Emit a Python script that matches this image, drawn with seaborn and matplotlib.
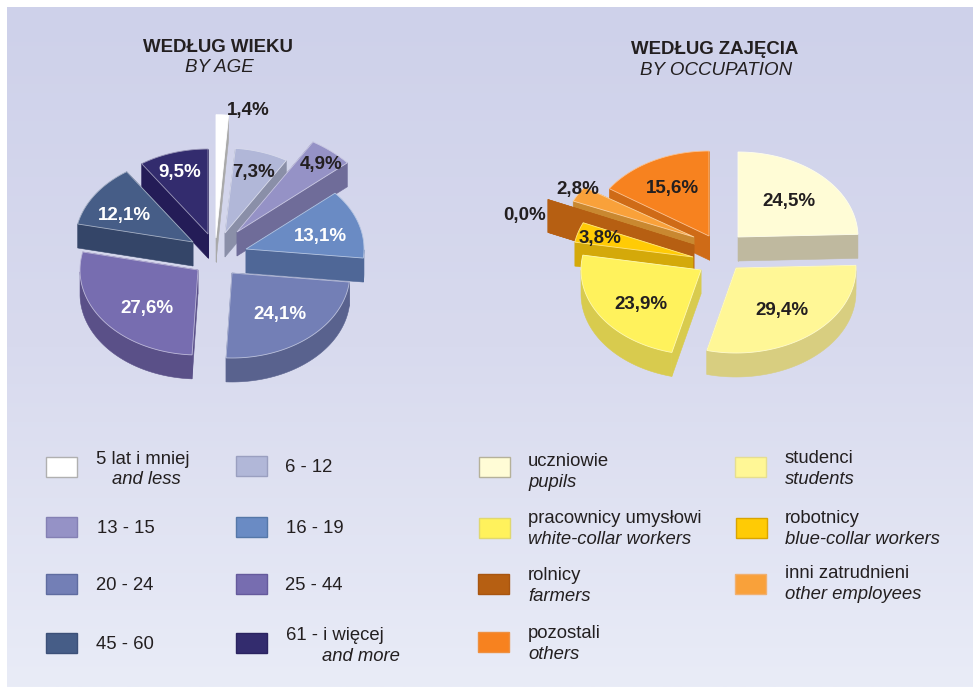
import numpy as np
import seaborn as sns
import matplotlib.pyplot as plt
from matplotlib.patches import Polygon, Rectangle

sns.set_theme(style='white')
plt.rcParams['font.family'] = ['Liberation Sans', 'DejaVu Sans']

DARK = '#231f20'

# data
age_values = [1.4, 7.3, 4.9, 13.1, 24.1, 27.6, 12.1, 9.5]
age_pl = ['5 lat i mniej', '6 - 12', '13 - 15', '16 - 19', '20 - 24', '25 - 44', '45 - 60', '61 - i więcej']
age_en = ['and less', '', '', '', '', '', '', 'and more']

job_values = [24.5, 29.4, 23.9, 3.8, 0.0, 2.8, 15.6]
job_pl = ['uczniowie', 'studenci', 'pracownicy umysłowi', 'robotnicy', 'rolnicy', 'inni zatrudnieni', 'pozostali']
job_en = ['pupils', 'students', 'white-collar workers', 'blue-collar workers', 'farmers', 'other employees', 'others']

# colours
age_top = sns.color_palette(['#ffffff', '#b1b7d8', '#9592c6', '#6a8bc4', '#737fb6', '#776db0', '#465d87', '#332c6e'])
age_side = ['#a9a9a9', '#8a8fa8', '#6f6c99', '#4f6797', '#59628e', '#5a5088', '#344568', '#241c57']
age_edge = ['#b0b0b0', '#9a9fc0', '#8480b4', '#5577a8', '#5f6ca0', '#655a9c', '#3c5078', '#2a2360']
age_text = [DARK, DARK, DARK, 'white', 'white', 'white', 'white', 'white']

job_top = sns.color_palette(['#fffcd6', '#fff796', '#fff25c', '#ffcb05', '#b65f12', '#f9a13a', '#f7821f'])
job_side = ['#bfb99f', '#d8ce80', '#d8cb4e', '#d4a90a', '#b65f12', '#c98830', '#cf6b17']
job_edge = ['#b5b19a', '#e6de90', '#e0d870', '#d9a400', '#a85510', '#f0b070', '#ee9040']

# layout: pie centres, slice offsets (px), radius scale (x, y), wall depth, draw order
age_center = (215, 250)
age_radius = (118, 85)
age_offset = [(1, -12), (10, -17), (22, -18), (31, -1), (17, 23), (-17, 20), (-22, -8), (-7, -16)]
age_scale = [(1.22, 1.45), (1, 1), (1.24, 1.24), (1, 1), (1, 1), (1, 1), (1, 1), (1, 1)]
age_depth = [24] * 8
age_order = [7, 0, 1, 2, 3, 6, 5, 4]
age_label_pos = [(248, 109), (254, 171), (321, 163), (320, 235), (280, 313), (147, 307), (124, 214), (180, 171)]

job_center = (715, 250)
job_radius = (120, 85)
job_offset = [(23, -13), (21, 18), (-14, 20), (-22, 7), (-21, -5), (-21, -13), (-6, -14)]
job_scale = [(1, 1), (1, 1), (1, 1), (1, 1), (1.33, 1.33), (1.1, 1.05), (1, 1)]
job_depth = [24, 24, 24, 24, 33, 8, 24]
job_order = [0, 6, 5, 4, 3, 2, 1]
job_label_pos = [(789, 200), (782, 309), (641, 303), (600, 237), (525, 214), (578, 188), (672, 187)]

TXT = 1.5  # va=center sits a bit high with this font


def draw_pie(ax, values, center, radius, offset, scale, depth, order, top, side):
    edges = np.cumsum([0] + values) / sum(values) * 2 * np.pi
    for i in order:
        tx, ty = center[0] + offset[i][0], center[1] + offset[i][1]
        th = np.linspace(edges[i], edges[i + 1], 60)
        ax_x = tx + radius[0] * scale[i][0] * np.sin(th)
        ax_y = ty - radius[1] * scale[i][1] * np.cos(th)
        d = depth[i]
        walls = []
        # cut faces
        for k in (0, -1):
            walls.append([(tx, ty), (ax_x[k], ax_y[k]), (ax_x[k], ax_y[k] + d), (tx, ty + d)])
        # outer wall, only the part that faces the viewer
        vis = np.cos(th) <= 0
        if vis.sum() > 1:
            xs, ys = ax_x[vis], ax_y[vis]
            walls.append(list(zip(xs, ys)) + list(zip(xs[::-1], ys[::-1] + d)))
        for w in sorted(walls, key=lambda p: np.mean([q[1] for q in p])):
            ax.add_patch(Polygon(w, closed=True, fc=side[i], ec=side[i], lw=0.4))
        if values[i] > 0:
            pts = [(tx, ty)] + list(zip(ax_x, ax_y))
            light = sns.blend_palette([top[i], 'white'], 3)[1]
            ax.add_patch(Polygon(pts, closed=True, fc=top[i], ec=light, lw=0.6))


def pct(v):
    return f'{v:.1f}'.replace('.', ',') + '%'


fig = plt.figure(figsize=(9.75, 6.88), dpi=100)
ax = fig.add_axes([0, 0, 1, 1])

# background
grad = np.linspace(0, 1, 256).reshape(-1, 1)
cmap = sns.blend_palette(['#ced1ea', '#d8daee', '#e9ecf7'], as_cmap=True)
ax.imshow(grad, cmap=cmap, extent=(7, 973, 687, 7), aspect='auto', zorder=0)
ax.set_xlim(0, 975)
ax.set_ylim(688, 0)
ax.axis('off')

# titles
ax.text(218, 46 + TXT, 'WEDŁUG WIEKU', ha='center', va='center', fontsize=13.4, fontweight='bold', color=DARK)
ax.text(219, 66 + TXT, 'BY AGE', ha='center', va='center', fontsize=13.5, fontstyle='italic', color=DARK)
ax.text(715, 48 + TXT, 'WEDŁUG ZAJĘCIA', ha='center', va='center', fontsize=13.4, fontweight='bold', color=DARK)
ax.text(716, 69 + TXT, 'BY OCCUPATION', ha='center', va='center', fontsize=13.5, fontstyle='italic', color=DARK)

# pies
draw_pie(ax, age_values, age_center, age_radius, age_offset, age_scale, age_depth, age_order, age_top, age_side)
draw_pie(ax, job_values, job_center, job_radius, job_offset, job_scale, job_depth, job_order, job_top, job_side)

for v, (x, y), c in zip(age_values, age_label_pos, age_text):
    ax.text(x, y + TXT, pct(v), ha='center', va='center', fontsize=13.5, fontweight='bold', color=c)
for v, (x, y) in zip(job_values, job_label_pos):
    ax.text(x, y + TXT, pct(v), ha='center', va='center', fontsize=13.5, fontweight='bold', color=DARK)

# legends
age_box = [(46, 467), (236, 466), (46, 527), (236, 527), (46, 584), (236, 584), (46, 643), (236, 643)]
age_pl_pos = [(96, 458), (285, 466), (97, 527), (286, 527), (96, 584), (285, 584), (96, 643), (286, 634)]
age_en_pos = [(112, 478), None, None, None, None, None, None, (322, 655)]
for i in range(8):
    x, y = age_box[i]
    ax.add_patch(Rectangle((x, y - 10), 31, 20, fc=age_top[i], ec=age_edge[i], lw=1))
    ax.text(age_pl_pos[i][0], age_pl_pos[i][1] + TXT, age_pl[i], va='center', fontsize=13.3, color=DARK)
    if age_en[i]:
        ax.text(age_en_pos[i][0], age_en_pos[i][1] + TXT, age_en[i], va='center', fontsize=13.3,
                fontstyle='italic', color=DARK)

job_box = [(479, 467), (735, 467), (479, 528), (736, 528), (478, 584), (735, 584), (478, 642)]
job_pl_pos = [(528, 460), (785, 457), (528, 517), (785, 517), (528, 574), (785, 572), (528, 632)]
job_en_pos = [(528, 481), (785, 478), (528, 538), (785, 538), (528, 595), (785, 593), (528, 653)]
for i in range(7):
    x, y = job_box[i]
    ax.add_patch(Rectangle((x, y - 10), 31, 20, fc=job_top[i], ec=job_edge[i], lw=1))
    ax.text(job_pl_pos[i][0], job_pl_pos[i][1] + TXT, job_pl[i], va='center', fontsize=13.3, color=DARK)
    ax.text(job_en_pos[i][0], job_en_pos[i][1] + TXT, job_en[i], va='center', fontsize=13.3,
            fontstyle='italic', color=DARK)

fig.savefig('out.png', dpi=100, facecolor='white')
